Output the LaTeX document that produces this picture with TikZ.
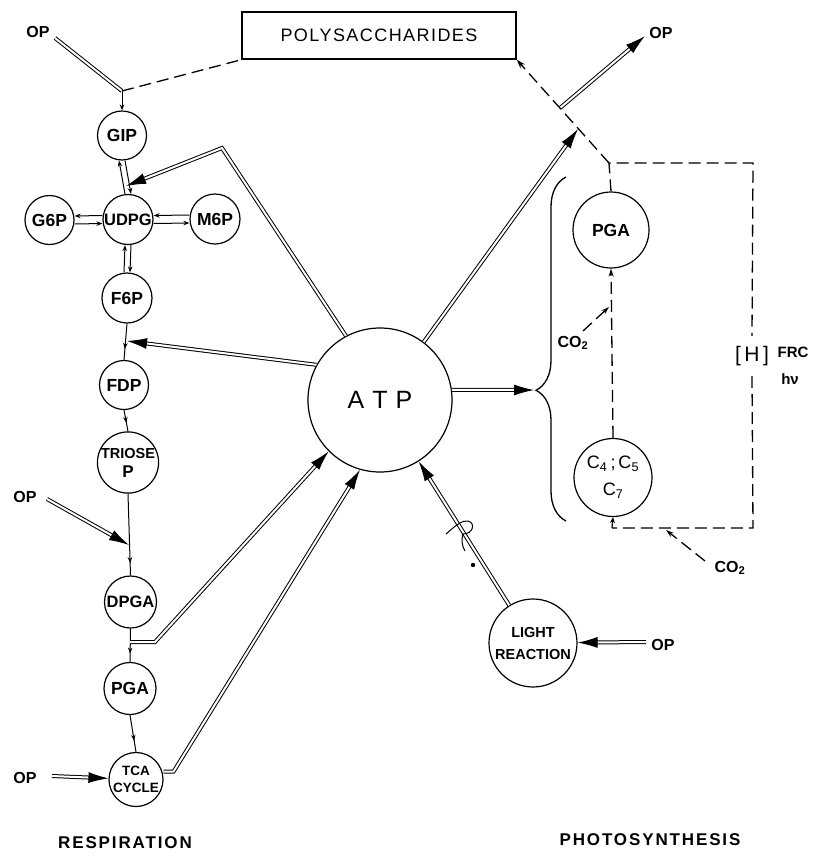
\documentclass[tikz,border=0pt]{standalone}
\usepackage{fontspec}
\setmainfont{Liberation Sans}
\usetikzlibrary{arrows.meta,decorations.pathreplacing,decorations.markings}
\begin{document}
\begin{tikzpicture}[x=1pt,y=-1pt,
  circ/.style={circle,draw,line width=1.2pt,inner sep=0pt},
  lbl/.style={font=\bfseries\fontsize{17.5}{18}\selectfont},
  oplbl/.style={font=\bfseries\fontsize{16}{16}\selectfont,inner sep=1pt},
  dbl/.style={double,double distance=2pt,line width=1pt},
  dtip/.style={-{Latex[length=20pt,width=11pt]}},
  sarrow/.style={line width=1pt,-{Stealth[length=6pt,width=4.5pt]}},
  midarrow/.style={line width=1pt,postaction={decorate},decoration={markings,mark=at position #1 with {\arrow{Stealth[length=6pt,width=4.5pt]}}}},
  dsh/.style={line width=1.3pt,dash pattern=on 12pt off 6pt},
]
\useasboundingbox (0,0) rectangle (814,857);

% ---------- nodes ----------
\node[draw,line width=1.5pt,minimum width=274pt,minimum height=47pt,inner sep=0pt,
      font=\fontsize{18}{18}\selectfont\addfontfeature{LetterSpace=8}] (PS) at (379,35.5) {POLYSACCHARIDES};

\node[circ,minimum size=49pt,lbl] (GIP) at (122,135.5) {GIP};
\node[circ,minimum size=50pt,lbl,font=\bfseries\fontsize{16.5}{18}\selectfont] (UDPG) at (128,219.5) {UDPG};
\node[circ,minimum size=49pt,lbl] (G6P) at (49.5,220) {G6P};
\node[circ,minimum size=50pt,lbl] (M6P) at (215,219) {M6P};
\node[circ,minimum size=50pt,lbl] (F6P) at (127,298) {F6P};
\node[circ,minimum size=49pt,lbl] (FDP) at (124,385) {FDP};
\node[circ,minimum size=59pt,align=center,font=\bfseries\fontsize{14.5}{19}\selectfont] (TRI) at (128,462.5) {TRIOSE\\{\fontsize{17}{17}\selectfont P}};
\node[circ,minimum size=52pt,lbl,font=\bfseries\fontsize{16.5}{18}\selectfont] (DPGA) at (130.5,602) {DPGA};
\node[circ,minimum size=52pt,lbl] (PGA1) at (130,688.5) {PGA};
\node[circ,minimum size=54pt,align=center,font=\bfseries\fontsize{13.5}{17}\selectfont] (TCA) at (136,779.5) {TCA\\CYCLE};

\node[circ,minimum size=144pt,font=\fontsize{25}{25}\selectfont] (ATP) at (380,400) {A\hspace{8pt}T\hspace{8pt}P};

\node[circ,minimum size=76pt,lbl] (PGA2) at (611,230) {PGA};
\node[circ,minimum size=78pt,align=center,font=\fontsize{18}{27}\selectfont] (C) at (613,477.5) {C\textsubscript{4}\,;\,C\textsubscript{5}\\C\textsubscript{7}};
\node[circ,minimum size=88pt,align=center,font=\bfseries\fontsize{14.5}{22}\selectfont] (LR) at (533,643) {LIGHT\\REACTION};

% labels
\node[oplbl] (op1) at (38,32) {OP};
\node[oplbl] (op3) at (25,497) {OP};
\node[oplbl] (op4) at (25,778) {OP};
\node[oplbl] (op2) at (661,33) {OP};
\node[oplbl] (op5) at (663,645) {OP};
\node[font=\bfseries\fontsize{16}{16}\selectfont] (co2a) at (573,343) {CO\textsubscript{2}};
\node[font=\bfseries\fontsize{16}{16}\selectfont] (co2b) at (730,568) {CO\textsubscript{2}};
\node[font=\fontsize{21}{21}\selectfont,inner sep=0pt,minimum height=40pt] (Hn) at (752,356) {[\,H\,]};
\node[font=\bfseries\fontsize{15}{15}\selectfont] (frc) at (793,352) {FRC};
\node[font=\bfseries\fontsize{15}{15}\selectfont] (hnu) at (790,379) {hν};
\node[font=\bfseries\fontsize{17}{17}\selectfont\addfontfeature{LetterSpace=11}] (resp) at (125,843) {RESPIRATION};
\node[font=\bfseries\fontsize{17}{17}\selectfont\addfontfeature{LetterSpace=11}] (phot) at (650,840) {PHOTOSYNTHESIS};

% ---------- coordinates ----------
\coordinate (op1s) at (55,38);
\coordinate (j1) at (122,91);
\coordinate (junc) at (609,163);
\coordinate (tr) at (753,163);
\coordinate (br) at (753,528);
\coordinate (bl) at (612,528);
\coordinate (atpTip) at (578,129);
\coordinate (opStart) at (560,108);
\coordinate (opEnd) at (645,36);
\coordinate (bend) at (222,148);
\coordinate (uTip) at (126,186);
\coordinate (fTip) at (127,341);
\coordinate (brTip) at (534,390);
\coordinate (d1) at (130,642);
\coordinate (d2) at (155,642);
\coordinate (op3s) at (47,499);
\coordinate (m3) at (129,545);
\coordinate (op4s) at (52,776);
\coordinate (op5s) at (646,642);
\coordinate (co2aS) at (583,331);
\coordinate (co2aT) at (609,307);
\coordinate (co2bS) at (705,561);
\coordinate (co2bT) at (666,530);

% ---------- glycolysis small arrows ----------
\draw[dbl] (op1s) -- (j1);
\draw[sarrow] (j1) -- (GIP.north);
\draw[dsh] (j1) -- (PS.south west);

\draw[sarrow] ([xshift=-3pt]UDPG.north) -- ([xshift=-3pt]GIP.south);
\draw[sarrow] ([xshift=3pt]GIP.south) -- ([xshift=3pt]UDPG.north);
\draw[sarrow] ([yshift=4pt]UDPG.west) -- ([yshift=4pt]G6P.east);
\draw[sarrow] ([yshift=-4pt]G6P.east) -- ([yshift=-4pt]UDPG.west);
\draw[sarrow] ([yshift=4pt]M6P.west) -- ([yshift=4pt]UDPG.east);
\draw[sarrow] ([yshift=-4pt]UDPG.east) -- ([yshift=-4pt]M6P.west);
\draw[sarrow] ([xshift=-3pt]F6P.north) -- ([xshift=-3pt]UDPG.south);
\draw[sarrow] ([xshift=3pt]UDPG.south) -- ([xshift=3pt]F6P.north);

\draw[midarrow=0.7] (F6P.south) -- (FDP.north);
\draw[midarrow=0.6] (FDP.south) -- (TRI.north);
\draw[midarrow=0.85] (TRI.south) -- (DPGA.north);
\draw[midarrow=0.75] (DPGA.south) -- (PGA1.north);
\draw[midarrow=0.7] (PGA1.south) -- (TCA.north);

% ---------- OP inputs ----------
\draw[dbl,dtip] (op3s) -- (m3);
\draw[dbl,dtip] (op4s) -- (TCA);
\draw[dbl,dtip] (op5s) -- (LR);
\draw[dbl,dtip] (opStart) -- (opEnd);

% ---------- ATP connections ----------
\draw[dbl,dtip] (d1) -- (d2) -- (ATP.225);
\draw[dbl,dtip] ([yshift=8pt]TCA.east) -- ++(10,0) -- (ATP.254);
\draw[dbl,dtip] (LR) -- (ATP);
\draw[dbl,dtip] (ATP.8) -- (brTip);
\draw[dbl,dtip] (ATP.151) -- (fTip);
\draw[dbl,dtip] (ATP.118) -- (bend) -- (uTip);
\draw[dbl,dtip] (ATP.53) -- (atpTip);

% squiggle on light reaction line
\draw[line width=1pt] (446,534) .. controls (455,526) and (462,520) .. (468,521) .. controls (476,523) and (473,534) .. (463,534) .. controls (461,540) and (462,546) .. (465,551);
\fill (473,565) circle (2.2pt);

% ---------- photosynthesis cycle ----------
\draw[line width=1.3pt,decorate,decoration={brace,amplitude=30pt,aspect=0.38}] (566,521) -- (566,177);
\draw[dsh,-{Stealth[length=9pt,width=6pt]}] (junc) -- (PS.south east);
\draw[dsh] (PGA2.north) -- (junc) -- (tr) -- (Hn.north);
\draw[dsh] (Hn.south) -- (br) -- (bl);
\draw[line width=1.2pt,-{Stealth[length=6pt,width=5pt]}] (bl) -- (C.south);
\draw[dsh,-{Stealth[length=8pt,width=5pt]}] (C.north) -- (PGA2.south);
\draw[dsh,-{Stealth[length=8pt,width=5pt]}] (co2aS) -- (co2aT);
\draw[dsh,-{Stealth[length=8pt,width=5pt]}] (co2bS) -- (co2bT);
\end{tikzpicture}
\end{document}
